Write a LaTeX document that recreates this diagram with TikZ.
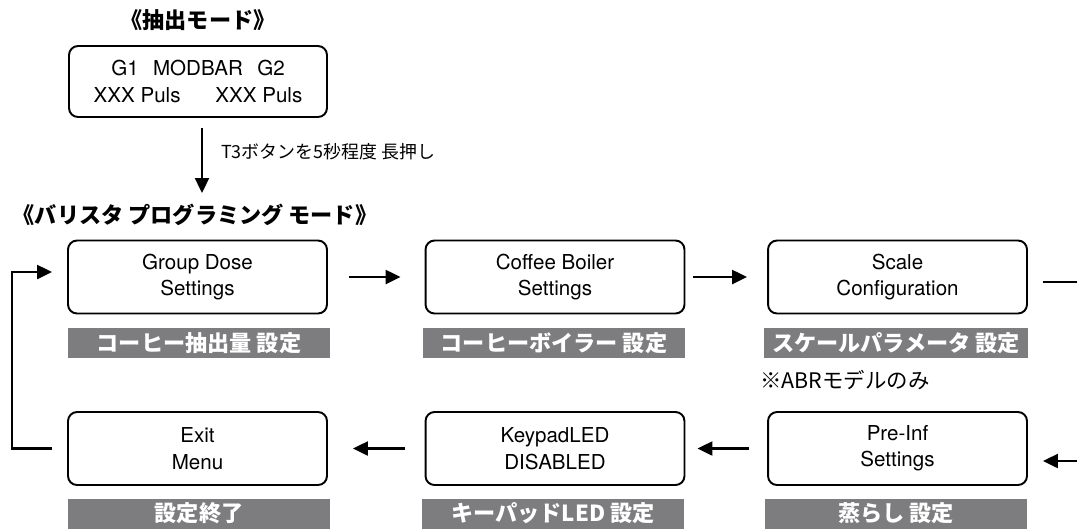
\documentclass[tikz,border=0pt]{standalone}
\usepackage{fontspec}
\setmainfont{TeX Gyre Heros}
\newfontfamily\jpfont{Noto Sans CJK JP}
\usepackage{tikz}
\usetikzlibrary{arrows.meta}
\definecolor{barGray}{RGB}{125,125,128}

\begin{document}
\begin{tikzpicture}[x=0.02cm, y=-0.02cm,
	menubox/.style={draw, line width=1.1pt, rounded corners=0.18cm, minimum width=5.18cm, minimum height=1.46cm, inner sep=0pt, align=center, font=\fontsize{11.7}{15}\selectfont},
	graybar/.style={fill=barGray, text=white, minimum width=5.24cm, minimum height=0.6cm, inner sep=0pt, font=\jpfont\bfseries\fontsize{12.6}{14}\selectfont},
	modetitle/.style={font=\jpfont\bfseries\fontsize{12.6}{14}\selectfont},
	conn/.style={line width=1.3pt},
	flow/.style={conn, -{Triangle[length=0.3cm, width=0.28cm]}}]
		\useasboundingbox (0, 0) rectangle (1077, 529);
		%%%%% START %%%%%
		\node[modetitle] (extr) at (198, 20) {《抽出モード》};
		\node[menubox, minimum width=5.16cm, minimum height=1.42cm] (modbar) at (198, 81.5)
			{G1\hspace{0.7em}MODBAR\hspace{0.7em}G2\\XXX Puls\hspace{1.7em}XXX Puls};
		
		\coordinate (t3tip) at (202, 193);
		\draw[flow, shorten <=0.2cm] (modbar.south -| t3tip) -- (t3tip);
		\node[anchor=west, font=\jpfont\fontsize{10.2}{12}\selectfont] (t3lbl) at (215, 152) {T3ボタンを5秒程度 長押し};
		
		\node[modetitle] (bpm) at (195, 215) {《バリスタ プログラミング モード》};
		
		% upper row
		\node[menubox] (gd) at (197.5, 277) {Group Dose\\Settings};
		\node[menubox] (cb) at (555, 277) {Coffee Boiler\\Settings};
		\node[menubox] (sc) at (897.5, 277) {Scale\\Configuration};
		\node[graybar] (gdbar) at (199, 343) {コーヒー抽出量 設定};
		\node[graybar] (cbbar) at (554, 343) {コーヒーボイラー 設定};
		\node[graybar, minimum width=5.28cm] (scbar) at (896, 343) {スケールパラメータ 設定};
		\node[anchor=west, inner sep=0pt, font=\jpfont\fontsize{12.2}{14}\selectfont] (abr) at (760, 380) {※ABRモデルのみ};
		
		% lower row
		\node[menubox] (ex) at (197.5, 448.5) {Exit\\Menu};
		\node[menubox] (kp) at (555, 448.5) {KeypadLED\\DISABLED};
		\node[menubox] (pi) at (897.5, 448.5) {Pre-Inf\\Settings};
		\node[graybar] (exbar) at (199, 513.5) {設定終了};
		\node[graybar] (kpbar) at (553, 513.5) {キーパッドLED 設定};
		\node[graybar] (pibar) at (896, 513.5) {蒸らし 設定};
		
		% connectors
		\draw[flow, shorten <=0.42cm, shorten >=0.48cm] (gd) -- (cb);
		\draw[flow, shorten <=0.16cm, shorten >=0.4cm] (cb) -- (sc);
		\coordinate (rtop) at (1077, 282);
		\coordinate (rbot) at (1077, 461);
		\draw[conn, shorten <=0.3cm] (sc.east |- rtop) -- (rtop);
		\draw[flow, shorten >=0.3cm] (rbot) -- (pi.east |- rbot);
		\draw[flow, shorten <=0.36cm, shorten >=0.24cm] (pi) -- (kp);
		\draw[flow, shorten <=0.4cm, shorten >=0.5cm] (kp) -- (ex);
		\draw[flow, shorten <=0.3cm, shorten >=0.3cm] (ex.west) -- ++(-55, 0) |- ([yshift=0.1cm]gd.west);
		%%%%% END %%%%%
\end{tikzpicture}
\end{document}
